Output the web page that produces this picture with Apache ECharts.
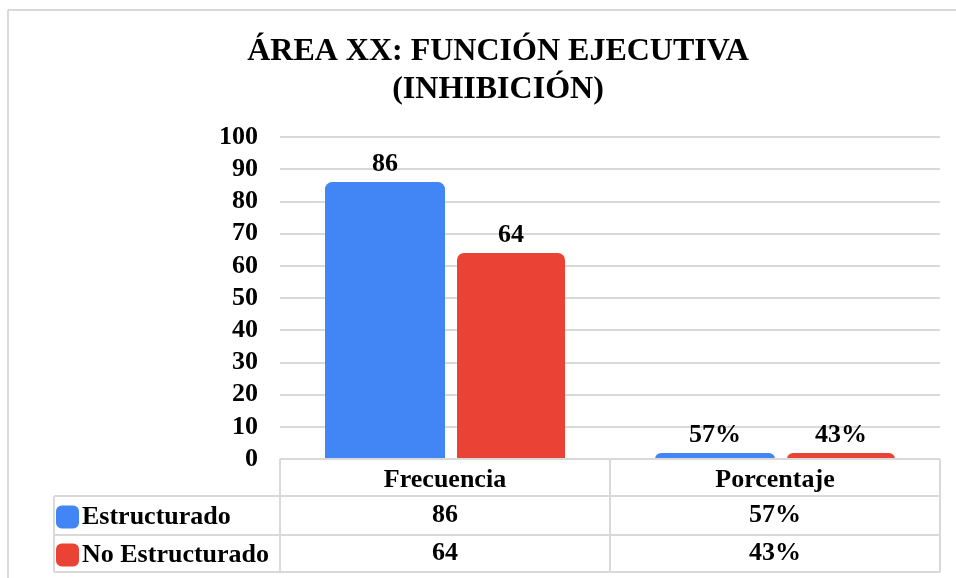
<!DOCTYPE html>
<html>
<head>
<meta charset="utf-8">
<script src="https://cdn.jsdelivr.net/npm/echarts@6/dist/echarts.min.js"></script>
<style>
html,body{margin:0;padding:0;background:#fff;}
#main{width:956px;height:578px;}
</style>
</head>
<body>
<div id="main"></div>
<script>
const titleText = 'ÁREA XX: FUNCIÓN EJECUTIVA\n(INHIBICIÓN)';
const categories = ['Frecuencia', 'Porcentaje'];
const seriesNames = ['Estructurado', 'No Estructurado'];
const estructurado = [86, 0.57];
const noEstructurado = [64, 0.43];
const labelsEstructurado = ['86', '57%'];
const labelsNoEstructurado = ['64', '43%'];
const yMin = 0, yMax = 100, yStep = 10;

const FONT = '"Liberation Serif", "Times New Roman", serif';
const BLUE = '#4285F4', RED = '#EA4335', LINE = '#d9d9d9';

const chart = echarts.init(document.getElementById('main'), null, {renderer: 'canvas'});

const labelSets = [labelsEstructurado, labelsNoEstructurado];
function mkSeries(i, data, color, width) {
  return {
    name: seriesNames[i], type: 'bar', data: data,
    barWidth: width, barGap: '10%', barMinHeight: 6,
    itemStyle: {color: color, borderRadius: [7, 7, 0, 0]},
    label: {
      show: true, position: 'top', distance: 5,
      formatter: p => labelSets[i][p.dataIndex],
      fontFamily: FONT, fontWeight: 'bold', fontSize: 26, color: '#000'
    }
  };
}

chart.setOption({
  animation: false,
  title: {
    text: titleText, left: 493, top: 28, textAlign: 'center',
    textStyle: {fontFamily: FONT, fontWeight: 'bold', fontSize: 32, lineHeight: 38, color: '#000'}
  },
  legend: {
    data: seriesNames, orient: 'vertical', left: 56, top: 504, itemGap: 12,
    height: 80, padding: 0,
    itemWidth: 23, itemHeight: 23, icon: 'roundRect',
    textStyle: {fontFamily: FONT, fontWeight: 'bold', fontSize: 26, lineHeight: 22, color: '#000', padding: [0, 0, 0, -2]}
  },
  grid: {left: 280, right: 16, top: 137, bottom: 119},
  xAxis: {
    type: 'category', data: categories,
    axisLine: {show: false}, axisTick: {show: false},
    axisLabel: {margin: 8, fontFamily: FONT, fontWeight: 'bold', fontSize: 26, color: '#000'}
  },
  yAxis: {
    type: 'value', min: yMin, max: yMax, interval: yStep,
    axisLine: {show: false}, axisTick: {show: false},
    splitLine: {lineStyle: {color: LINE, width: 2}},
    axisLabel: {margin: 22, fontFamily: FONT, fontWeight: 'bold', fontSize: 26, color: '#000'}
  },
  series: [
    mkSeries(0, estructurado, BLUE, 120),
    mkSeries(1, noEstructurado, RED, 108)
  ]
});

// table beneath the plot
const left = 280, right = 940, mid = 610, legL = 54;
const yTop = 459, y1 = 496, y2 = 535, y3 = 572;
const centers = categories.map((c, i) => chart.convertToPixel({xAxisIndex: 0}, i));
function line(xa, ya, xb, yb) {
  return {type: 'line', shape: {x1: xa, y1: ya, x2: xb, y2: yb}, style: {stroke: LINE, lineWidth: 2}, z: 10};
}
const rowY = [(y1 + y2) / 2, (y2 + y3) / 2];
const g = [
  line(8, 10, 956, 10),
  line(8, 10, 8, 578),
  line(left, yTop, right, yTop),
  line(left, yTop, left, y3), line(mid, yTop, mid, y3), line(right, yTop, right, y3),
  line(legL, y1, legL, y3),
  line(legL, y1, right, y1), line(legL, y2, right, y2), line(legL, y3, right, y3)
];
labelSets.forEach((set, r) => {
  set.forEach((t, c) => {
    g.push({type: 'text', x: centers[c], y: rowY[r], z: 11,
      style: {text: t, textAlign: 'center', textVerticalAlign: 'middle',
        font: 'bold 26px ' + FONT, fill: '#000'}});
  });
});
chart.setOption({graphic: g});
</script>
</body>
</html>
